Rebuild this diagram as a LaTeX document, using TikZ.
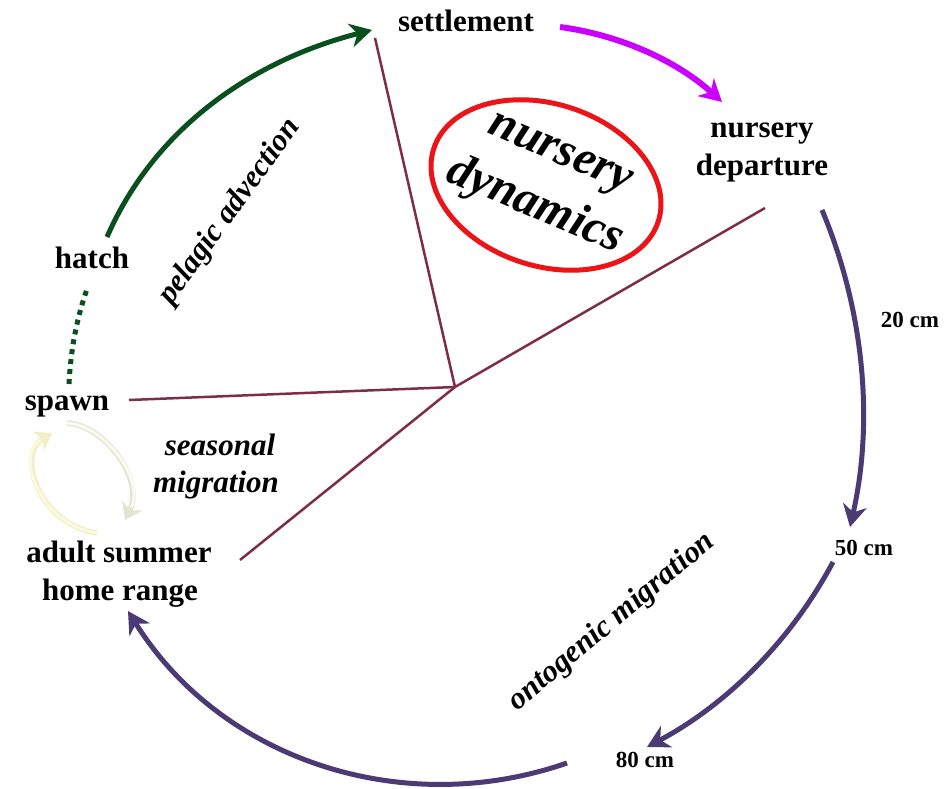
\documentclass[tikz,border=0pt]{standalone}
\usepackage{fontspec}
\setmainfont{Liberation Serif}
\usetikzlibrary{arrows.meta,shapes.geometric}
\definecolor{larvagreen}{RGB}{10,80,30}
\definecolor{settlemag}{RGB}{204,0,255}
\definecolor{ontopurple}{RGB}{75,58,115}
\definecolor{spokered}{RGB}{125,45,75}
\definecolor{ringred}{RGB}{235,20,25}
\definecolor{paleyel}{RGB}{252,250,222}
\definecolor{paleyeledge}{RGB}{242,238,200}
\definecolor{palegrey}{RGB}{250,250,240}
\definecolor{palegreyedge}{RGB}{228,228,210}

\begin{document}
\begin{tikzpicture}[x=1pt,y=-1pt,
  lab/.style={font=\fontsize{31}{36}\selectfont\bfseries, inner sep=0pt, anchor=base},
  sizelab/.style={font=\fontsize{23}{26}\selectfont\bfseries, inner sep=0pt, anchor=base},
  phase/.style={font=\fontsize{31}{36}\selectfont\bfseries\itshape, inner sep=0pt},
  hub/.style={font=\fontsize{48}{54}\selectfont\bfseries\itshape, inner sep=0pt, rotate=-23},
  flow/.style={line width=5pt, -{Stealth[length=22pt,width=24pt,inset=7pt]}},
  spoke/.style={spokered, line width=2.5pt},
  paletip/.style={-{Stealth[length=16pt,width=22pt,inset=5pt]}},
]
\useasboundingbox[fill=white] (0,0) rectangle (947,789);

% life-stage labels
\node[lab] (settle) at (466,32) {settlement};
\node[lab] (depA) at (762,138) {nursery};
\node[lab] (depB) at (762,175) {departure};
\node[lab] (hatch) at (92,268) {hatch};
\node[lab] (spawn) at (67,410) {spawn};
\node[lab] (adultA) at (119,562) {adult summer};
\node[lab] (adultB) at (120,600) {home range};
\node[sizelab] (s20) at (910,327) {20 cm};
\node[sizelab] (s50) at (864,555) {50 cm};
\node[sizelab] (s80) at (645,767) {80 cm};

% phase labels
\node[phase, rotate=54] (pelagic) at (230,212) {pelagic advection};
\node[phase, rotate=40] (onto) at (612,622) {ontogenic migration};
\node[phase, anchor=base] (seasA) at (220,455) {seasonal};
\node[phase, anchor=base] (seasB) at (216,492) {migration};

% nursery hub
\node[draw=ringred, line width=5pt, ellipse, minimum width=236pt,
      minimum height=162pt, inner sep=0pt, rotate=-18] (ring) at (546,185) {};
\node[hub] (hubA) at (559,157) {nursery};
\node[hub] (hubB) at (535,206) {dynamics};

% spokes dividing the phases
\coordinate (centre) at (455,387);
\coordinate (spokeN) at (375,38);
\coordinate (spokeW) at (129,400);
\coordinate (spokeSW) at (240,560);
\coordinate (spokeE) at (765,208);
\draw[spoke] (centre) -- (spokeN);
\draw[spoke] (centre) -- (spokeW);
\draw[spoke] (centre) -- (spokeSW);
\draw[spoke] (centre) -- (spokeE);

% arrow ends
\coordinate (g0) at (107,237);  \coordinate (g1) at (372,30);
\coordinate (d0) at (69,384);   \coordinate (d1) at (87,289);
\coordinate (m0) at (560,27);   \coordinate (m1) at (722,102);
\coordinate (p0) at (822,210);  \coordinate (p1) at (850,527);
\coordinate (p2) at (833,562);  \coordinate (p3) at (647,747);
\coordinate (p4) at (567,763);  \coordinate (p5) at (128,611);
\coordinate (y0) at (97,533);   \coordinate (y1) at (52,433);
\coordinate (w0) at (67,423);   \coordinate (w1) at (125,520);

% spawn to hatch
\draw[larvagreen, line width=5pt, dash pattern=on 5pt off 5pt]
  (d0) .. controls (71,345) and (78,315) .. (d1);
% pelagic advection
\draw[flow, larvagreen] (g0) .. controls (155,127) and (254,60) .. (g1);
% settlement to nursery departure
\draw[flow, settlemag, line width=6pt] (m0) .. controls (620,35) and (677,61) .. (m1);
% ontogenic migration
\draw[flow, ontopurple] (p0) .. controls (864,310) and (874,421) .. (p1);
\draw[flow, ontopurple] (p2) .. controls (791,641) and (726,705) .. (p3);
\draw[flow, ontopurple] (p4) .. controls (403,820) and (221,760) .. (p5);

% seasonal migration loop
\draw[paletip, paleyeledge, line width=5.5pt] (y0) .. controls (40,525) and (15,455) .. (y1);
\draw[paleyel, line width=3pt, shorten >=14pt] (y0) .. controls (40,525) and (15,455) .. (y1);
\draw[paletip, palegreyedge, line width=5.5pt] (w0) .. controls (105,425) and (145,480) .. (w1);
\draw[palegrey, line width=3pt, shorten >=14pt] (w0) .. controls (105,425) and (145,480) .. (w1);
\end{tikzpicture}
\end{document}
